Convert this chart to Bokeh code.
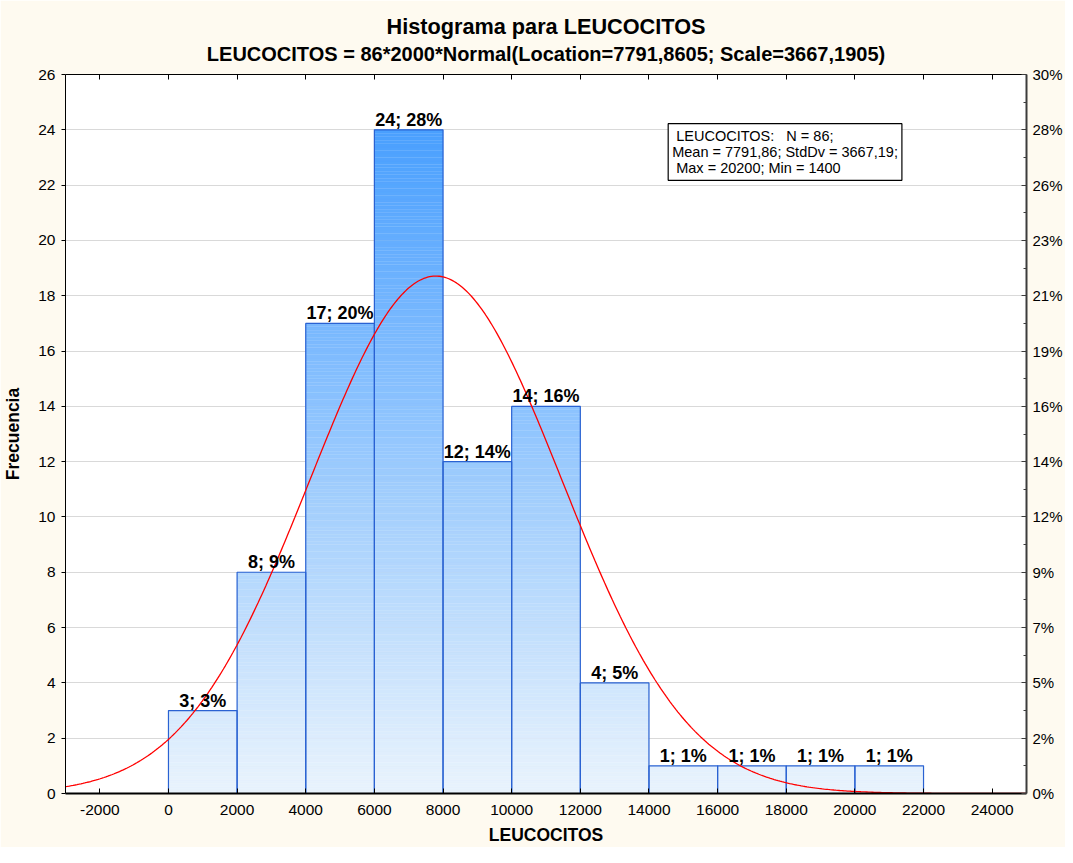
import numpy as np
from bokeh.plotting import figure
from bokeh.models import LinearAxis, FixedTicker, Title, Label, Range1d
from bokeh.embed import file_html
from bokeh.resources import INLINE
from bokeh.core.properties import value

# ---------------- data ----------------
bin_left = [0, 2000, 4000, 6000, 8000, 10000, 12000, 14000, 16000, 18000, 20000]
bin_right = [2000, 4000, 6000, 8000, 10000, 12000, 14000, 16000, 18000, 20000, 22000]
counts = [3, 8, 17, 24, 12, 14, 4, 1, 1, 1, 1]
n_total = 86
bin_width = 2000
fit_location = 7791.8605
fit_scale = 3667.1905

x_ticks = [-2000, 0, 2000, 4000, 6000, 8000, 10000, 12000, 14000, 16000, 18000, 20000, 22000, 24000]
x_tick_labels = ["-2000", "0", "2000", "4000", "6000", "8000", "10000", "12000",
                 "14000", "16000", "18000", "20000", "22000", "24000"]
y_ticks = [0, 2, 4, 6, 8, 10, 12, 14, 16, 18, 20, 22, 24, 26]
y_minor_ticks = [1, 3, 5, 7, 9, 11, 13, 15, 17, 19, 21, 23, 25]

title_main = "Histograma para LEUCOCITOS"
title_sub = "LEUCOCITOS = 86*2000*Normal(Location=7791,8605; Scale=3667,1905)"
x_label = "LEUCOCITOS"
y_label = "Frecuencia"
stats_lines = [" LEUCOCITOS:   N = 86;", "Mean = 7791,86; StdDv = 3667,19;", " Max = 20200; Min = 1400"]

# ---------------- style ----------------
FONT = "Liberation Sans"
CREAM = "#FEFAF0"
GRID = "#D9D9D9"
BAR_EDGE = "#2A62D2"
C_LOW = np.array([234, 244, 253])
C_HIGH = np.array([74, 160, 255])

p = figure(width=1065, height=847,
           x_range=Range1d(-3000, 25000), y_range=Range1d(0, 26),
           output_backend="svg", toolbar_location=None,
           min_border=0, min_border_left=64, min_border_right=38, min_border_top=74)
p.background_fill_color = "white"
p.border_fill_color = CREAM
p.outline_line_color = None

# bars: gradient strips (colour depends on height)
dy = 0.125
sl, sr, sb, st, sc = [], [], [], [], []
for l, r, c in zip(bin_left, bin_right, counts):
    y0 = 0.0
    while y0 < c - 1e-9:
        y1 = min(y0 + dy, c)
        t = min(((y0 + y1) / 2) / 24.0, 1.0)
        rgb = (C_LOW + (C_HIGH - C_LOW) * t).astype(int)
        sl.append(l); sr.append(r); sb.append(y0); st.append(y1)
        sc.append("#%02x%02x%02x" % tuple(rgb))
        y0 = y1
p.quad(left=sl, right=sr, bottom=sb, top=st, fill_color=sc, line_color=sc, line_width=0.3)
p.quad(left=bin_left, right=bin_right, bottom=0, top=counts,
       fill_color=None, line_color=BAR_EDGE, line_width=1.2)

# fitted normal curve (as stated in the subtitle)
xs = np.linspace(-3000, 25000, 500)
ys = n_total * bin_width * np.exp(-0.5 * ((xs - fit_location) / fit_scale) ** 2) / (fit_scale * np.sqrt(2 * np.pi))
p.line(xs, ys, line_color="#FF0000", line_width=1.3)

# bar labels
centers = [(l + r) / 2 for l, r in zip(bin_left, bin_right)]
bar_labels = ["%d; %d%%" % (c, round(c / n_total * 100)) for c in counts]
p.text(x=centers, y=counts, text=bar_labels, text_align="center", text_baseline="bottom",
       y_offset=0, text_font=value(FONT), text_font_style="bold", text_font_size="18px",
       text_color="black")

# stats box
NB = "\u00a0"
stats_text = "\n".join(s.replace(" ", NB) for s in stats_lines)
stats = Label(x=14560, y=24.22, text=stats_text, text_font=FONT,
              text_font_size="14.5px", text_baseline="top", text_align="left",
              text_color="black", text_line_height=1.02, background_fill_color="white",
              border_line_color="black", border_line_width=1.2, padding=4)
p.add_layout(stats)

# grid
p.xgrid.visible = False
p.ygrid.ticker = FixedTicker(ticks=y_ticks)
p.ygrid.grid_line_color = GRID
p.ygrid.grid_line_width = 1.2

# bottom axis
xa = p.xaxis[0]
xa.ticker = FixedTicker(ticks=x_ticks)
xa.major_label_overrides = {t: s for t, s in zip(x_ticks, x_tick_labels)}
xa.major_tick_in = 5
xa.major_tick_out = 0
xa.minor_tick_in = 0
xa.minor_tick_out = 0
xa.axis_line_color = "black"
xa.axis_line_width = 2
xa.major_tick_line_color = "black"
xa.major_label_standoff = 11
xa.major_label_text_font = FONT
xa.major_label_text_font_size = "15.5px"
xa.major_label_text_color = "black"
xa.axis_label = x_label
xa.axis_label_standoff = 7
xa.axis_label_text_font = FONT
xa.axis_label_text_font_size = "17.5px"
xa.axis_label_text_font_style = "bold"
xa.axis_label_text_color = "black"

# left axis
ya = p.yaxis[0]
ya.ticker = FixedTicker(ticks=y_ticks)
ya.major_tick_in = 0
ya.major_tick_out = 4
ya.minor_tick_in = 0
ya.minor_tick_out = 0
ya.axis_line_color = "black"
ya.major_tick_line_color = "black"
ya.major_label_standoff = 6
ya.major_label_text_font = FONT
ya.major_label_text_font_size = "15.5px"
ya.major_label_text_color = "black"
ya.axis_label = y_label
ya.axis_label_standoff = 12
ya.axis_label_text_font = FONT
ya.axis_label_text_font_size = "17.5px"
ya.axis_label_text_font_style = "bold"
ya.axis_label_text_color = "black"

# right axis (percent)
pct_labels = {t: "%d%%" % round(t / n_total * 100) for t in y_ticks}
ra = LinearAxis(ticker=FixedTicker(ticks=y_ticks, minor_ticks=y_minor_ticks),
                major_label_overrides=pct_labels,
                major_tick_in=5, major_tick_out=0, minor_tick_in=3, minor_tick_out=0,
                major_label_standoff=6, axis_line_color="#3C3C3C", axis_line_width=2,
                major_tick_line_color="#3C3C3C", minor_tick_line_color="#3C3C3C",
                major_label_text_font=FONT, major_label_text_font_size="15px",
                major_label_text_color="black")
p.add_layout(ra, "right")

# top axis (ticks only)
ta = LinearAxis(ticker=FixedTicker(ticks=x_ticks), major_label_text_font_size="0px",
                major_label_text_color=None, major_label_standoff=0,
                major_tick_in=5, major_tick_out=0, minor_tick_in=0, minor_tick_out=0,
                axis_line_color="black", major_tick_line_color="black")
p.add_layout(ta, "above")

# invisible spacer between the frame and the titles
spacer = LinearAxis(ticker=FixedTicker(ticks=x_ticks), major_label_text_font_size="0px",
                    major_label_text_color=None, major_label_standoff=0,
                    major_tick_in=0, major_tick_out=7, minor_tick_in=0, minor_tick_out=0,
                    axis_line_color=None, major_tick_line_color=None, minor_tick_line_color=None)
p.add_layout(spacer, "above")

# titles
p.add_layout(Title(text=title_sub, align="center", text_font=FONT, text_font_size="20px",
                   text_font_style="bold", text_color="black", standoff=5), "above")
p.add_layout(Title(text=title_main, align="center", text_font=FONT, text_font_size="21.7px",
                   text_font_style="bold", text_color="black", standoff=0), "above")

open("out.html", "w").write(file_html(p, INLINE))
